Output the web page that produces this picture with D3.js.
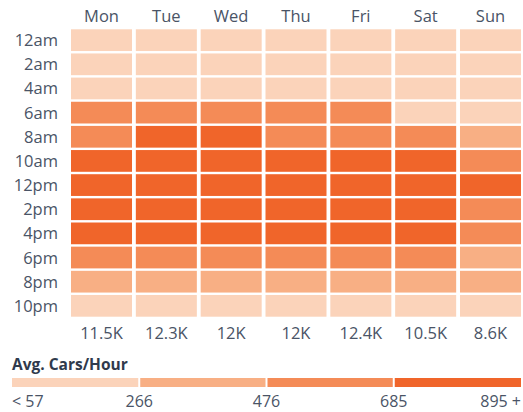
<!DOCTYPE html>
<html><head><meta charset="utf-8">
<script src="https://cdn.jsdelivr.net/npm/d3@7"></script>
<style>body{margin:0;background:#fff}svg{display:block;font-family:"Open Sans",sans-serif}</style>
</head><body><svg id="c" width="523" height="412"></svg>
<script>
const days = ["Mon","Tue","Wed","Thu","Fri","Sat","Sun"];
const hours = ["12am","2am","4am","6am","8am","10am","12pm","2pm","4pm","6pm","8pm","10pm"];
// avg cars/hour per 2-hour slot, one array per day (12am..10pm)
const mon = [110, 65, 130, 520, 600, 780, 860, 830, 805, 520, 320, 210];
const tue = [115, 70, 140, 560, 760, 790, 870, 850, 840, 530, 330, 215];
const wed = [112, 68, 138, 550, 740, 770, 850, 830, 820, 520, 325, 210];
const thu = [114, 69, 140, 555, 650, 780, 860, 835, 825, 530, 330, 212];
const fri = [120, 72, 142, 560, 660, 800, 880, 860, 840, 545, 340, 230];
const sat = [150, 90, 120, 200, 560, 700, 760, 730, 720, 520, 340, 240];
const sun = [160, 100, 80, 150, 330, 540, 700, 600, 560, 400, 300, 230];
const series = [mon, tue, wed, thu, fri, sat, sun];
const totals = ["11.5K","12.3K","12K","12K","12.4K","10.5K","8.6K"];
const thresholds = [266, 476, 685];
const legendLabels = ["< 57","266","476","685","895 +"];
const colors = ["#FBD3BA","#F8AF84","#F48B57","#F0652A"];

const svg = d3.select("#c");
const x = d3.scaleBand().domain(days).range([71, 521]).paddingInner(0.059);
const y = d3.scaleBand().domain(hours).range([29.3, 316.7]).paddingInner(0.1);
const color = d3.scaleThreshold().domain(thresholds).range(colors);
const textCol = "#4a5466";

const cells = [];
days.forEach((d, i) => hours.forEach((h, j) => cells.push({d, h, v: series[i][j]})));
svg.append("g").selectAll("rect").data(cells).join("rect")
  .attr("x", c => x(c.d)).attr("y", c => y(c.h))
  .attr("width", x.bandwidth()).attr("height", y.bandwidth())
  .attr("fill", c => color(c.v));

svg.append("g").selectAll("text").data(days).join("text")
  .attr("x", d => x(d) + x.bandwidth()/2).attr("y", 22)
  .attr("text-anchor","middle").attr("font-size",16.5).attr("fill",textCol).text(d => d);

svg.append("g").selectAll("text").data(hours).join("text")
  .attr("x", 58).attr("y", h => y(h) + y.bandwidth()/2 + 6)
  .attr("text-anchor","end").attr("font-size",16.5).attr("fill",textCol).text(h => h);

svg.append("g").selectAll("text").data(days).join("text")
  .attr("x", d => x(d) + x.bandwidth()/2).attr("y", 339)
  .attr("text-anchor","middle").attr("font-size",16.5).attr("fill",textCol).text((d,i) => totals[i]);

svg.append("text").attr("x",12).attr("y",370).attr("font-size",15.5).attr("font-weight","bold")
  .attr("fill","#2f3a4c").text("Avg. Cars/Hour");

const lx = d3.scaleLinear().domain([0, 4]).range([12, 521]);
svg.append("g").selectAll("rect").data(colors).join("rect")
  .attr("x", (c,i) => lx(i) + (i ? 1 : 0)).attr("y", 378)
  .attr("width", (c,i) => lx(i+1) - lx(i) - (i ? 1 : 0) - (i < 3 ? 1 : 0)).attr("height", 9)
  .attr("fill", c => c);

svg.append("g").selectAll("text").data(legendLabels).join("text")
  .attr("x", (t,i) => lx(i)).attr("y", 407)
  .attr("text-anchor", (t,i) => i === 0 ? "start" : i === 4 ? "end" : "middle")
  .attr("font-size",16).attr("fill",textCol).text(t => t);
</script></body></html>
